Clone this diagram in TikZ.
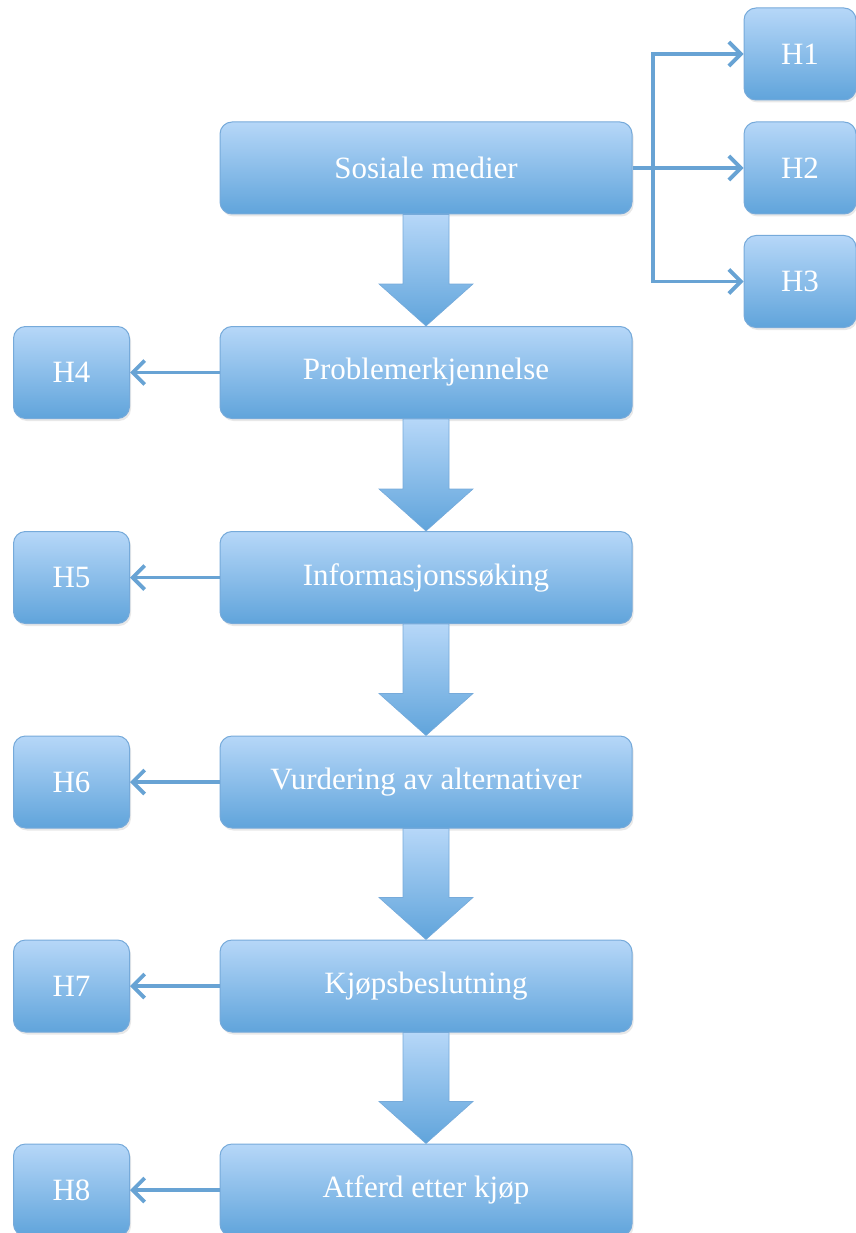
\documentclass[tikz,border=0pt]{standalone}
\usepackage{fontspec}
\setmainfont{Liberation Serif}
\usetikzlibrary{arrows.meta,shadows,calc}
\definecolor{boxtop}{RGB}{182,215,248}
\definecolor{boxbot}{RGB}{96,164,219}
\definecolor{boxline}{RGB}{118,170,218}
\definecolor{conn}{RGB}{104,163,212}
\tikzset{
  box/.style={draw=boxline, line width=1pt, rounded corners=12pt,
    top color=boxtop, bottom color=boxbot, text=white,
    font=\fontsize{31}{36}\selectfont, minimum height=92pt,
    drop shadow={opacity=0.18, shadow xshift=1.5pt, shadow yshift=-2.5pt}},
  mainbox/.style={box, minimum width=412pt},
  hbox/.style={box, minimum width=116pt},
  hrbox/.style={box, minimum width=112pt},
  conn/.style={draw=conn, line width=3.8pt, -{Straight Barb[length=12pt,width=24pt]}},
  arrowshade/.style={top color=boxtop, bottom color=boxbot, draw=boxline, line width=0.6pt}
}
\newcommand\blockarr[2]{%
  \path[arrowshade] ($(#1.south)+(-23,0)$) -- ($(#1.south)+(23,0)$)
    -- ($(#2.north)+(23,-42)$) -- ($(#2.north)+(47,-42)$) -- (#2.north)
    -- ($(#2.north)+(-47,-42)$) -- ($(#2.north)+(-23,-42)$) -- cycle;}
\begin{document}
\begin{tikzpicture}[x=1pt,y=-1pt]
\useasboundingbox (0,0) rectangle (855,1233);
\node[mainbox] (s) at (426,168) {Sosiale medier};
\node[mainbox] (p) at (426,372.5) {Problemerkjennelse};
\node[mainbox] (i) at (426,577.5) {Informasjonssøking};
\node[mainbox] (v) at (426,782) {Vurdering av alternativer};
\node[mainbox] (k) at (426,986) {Kjøpsbeslutning};
\node[mainbox] (a) at (426,1190) {Atferd etter kjøp};
\node[hrbox] (h1) at (800,54) {H1};
\node[hrbox] (h2) at (800,168) {H2};
\node[hrbox] (h3) at (800,281.5) {H3};
\node[hbox] (h4) at (71.5,372.5) {H4};
\node[hbox] (h5) at (71.5,577.5) {H5};
\node[hbox] (h6) at (71.5,782) {H6};
\node[hbox] (h7) at (71.5,986) {H7};
\node[hbox] (h8) at (71.5,1190) {H8};
\blockarr{s}{p}
\blockarr{p}{i}
\blockarr{i}{v}
\blockarr{v}{k}
\blockarr{k}{a}
\coordinate (j) at (653,168);
\draw[conn] (s.east) -- (h2.west);
\draw[conn] (j) |- (h1.west);
\draw[conn] (j) |- (h3.west);
\draw[conn] (p.west) -- (h4.east);
\draw[conn] (i.west) -- (h5.east);
\draw[conn] (v.west) -- (h6.east);
\draw[conn] (k.west) -- (h7.east);
\draw[conn] (a.west) -- (h8.east);
\end{tikzpicture}
\end{document}
